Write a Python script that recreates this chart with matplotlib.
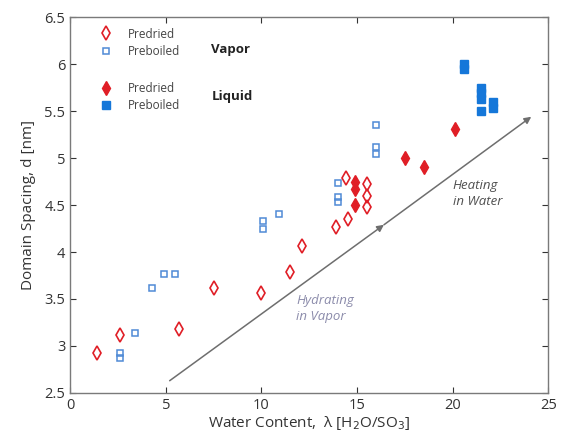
import matplotlib
matplotlib.use("Agg")
import matplotlib.pyplot as plt
from matplotlib.lines import Line2D

plt.rcParams['font.family'] = ['Open Sans', 'DejaVu Sans']

# vapor, predried (open red diamonds)
vap_pd_x = [1.4, 2.6, 5.7, 7.5, 10.0, 11.5, 12.1, 13.9, 14.5, 14.4, 15.5, 15.5, 15.5]
vap_pd_y = [2.92, 3.12, 3.18, 3.62, 3.56, 3.79, 4.06, 4.27, 4.35, 4.79, 4.72, 4.60, 4.48]

# vapor, preboiled (open blue squares)
vap_pb_x = [2.6, 2.6, 3.4, 4.3, 4.9, 5.5, 10.1, 10.1, 10.9, 14.0, 14.0, 14.0, 16.0, 16.0, 16.0]
vap_pb_y = [2.87, 2.92, 3.14, 3.62, 3.77, 3.77, 4.33, 4.25, 4.41, 4.73, 4.59, 4.53, 5.35, 5.12, 5.04]

# liquid, predried (filled red diamonds)
liq_pd_x = [14.9, 14.9, 14.9, 17.5, 18.5, 20.1]
liq_pd_y = [4.75, 4.67, 4.50, 5.00, 4.91, 5.31]

# liquid, preboiled (filled blue squares)
liq_pb_x = [20.6, 20.6, 21.5, 21.5, 21.5, 21.5, 22.1, 22.1]
liq_pb_y = [6.00, 5.95, 5.75, 5.69, 5.63, 5.50, 5.60, 5.53]

# trend arrow (start, mid, end)
arr_x = [5.2, 16.4, 24.1]
arr_y = [2.63, 4.29, 5.44]

red = '#e01e26'
blue_open = '#4f8ad6'
blue_fill = '#1577d9'

fig = plt.figure(figsize=(5.66, 4.41), dpi=100)
ax = fig.add_axes([0.124, 0.109, 0.845, 0.852])

ax.plot(vap_pd_x, vap_pd_y, 'd', ms=7, mfc='none', mec=red, mew=1.2, ls='none')
ax.plot(vap_pb_x, vap_pb_y, 's', ms=5, mfc='none', mec=blue_open, mew=1.1, ls='none')
ax.plot(liq_pd_x, liq_pd_y, 'd', ms=7, mfc=red, mec=red, ls='none')
ax.plot(liq_pb_x, liq_pb_y, 's', ms=5.5, mfc=blue_fill, mec=blue_fill, ls='none')

arrow_kw = dict(arrowstyle='-|>', color='#6e6e6e', lw=1.1, mutation_scale=10,
                shrinkA=0, shrinkB=0)
ax.annotate('', xy=(arr_x[1], arr_y[1]), xytext=(arr_x[0], arr_y[0]), arrowprops=arrow_kw)
ax.annotate('', xy=(arr_x[2], arr_y[2]), xytext=(arr_x[1], arr_y[1]), arrowprops=arrow_kw)

ax.text(11.8, 3.40, 'Hydrating\nin Vapor', style='italic', color='#8c8cab',
        fontsize=9.5, va='center', ha='left', linespacing=1.3)
ax.text(20.0, 4.62, 'Heating\nin Water', style='italic', color='#505050',
        fontsize=9.5, va='center', ha='left', linespacing=1.3)

# legend
h_vap = [Line2D([], [], marker='d', ms=7, mfc='none', mec=red, mew=1.2, ls='none'),
         Line2D([], [], marker='s', ms=5, mfc='none', mec=blue_open, mew=1.1, ls='none')]
h_liq = [Line2D([], [], marker='d', ms=7, mfc=red, mec=red, ls='none'),
         Line2D([], [], marker='s', ms=5.5, mfc=blue_fill, mec=blue_fill, ls='none')]
leg_kw = dict(frameon=False, fontsize=8.5, handletextpad=0.9, labelspacing=0.35,
              borderaxespad=0, labelcolor='#444444')
leg1 = ax.legend(h_vap, ['Predried', 'Preboiled'], loc='upper left',
                 bbox_to_anchor=(0.04, 0.985), **leg_kw)
ax.add_artist(leg1)
ax.legend(h_liq, ['Predried', 'Preboiled'], loc='upper left',
          bbox_to_anchor=(0.04, 0.84), **leg_kw)
ax.text(0.295, 0.915, 'Vapor', transform=ax.transAxes, fontsize=9.5,
        fontweight='bold', va='center', color='#222222')
ax.text(0.295, 0.79, 'Liquid', transform=ax.transAxes, fontsize=9.5,
        fontweight='bold', va='center', color='#222222')

ax.set_xlim(0, 25)
ax.set_ylim(2.5, 6.5)
ax.set_xticks([0, 5, 10, 15, 20, 25])
ax.set_yticks([2.5, 3, 3.5, 4, 4.5, 5, 5.5, 6, 6.5])
ax.set_yticklabels(['2.5', '3', '3.5', '4', '4.5', '5', '5.5', '6', '6.5'])
ax.tick_params(direction='in', top=True, right=True, length=4, width=0.8,
               labelsize=10.5, colors='#333333')
for s in ax.spines.values():
    s.set_color('#7a7a7a')
    s.set_linewidth(1.0)

ax.set_xlabel('Water Content,  \u03bb [H$_2$O/SO$_3$]', fontsize=11, color='#333333', labelpad=1)
ax.set_ylabel('Domain Spacing, d [nm]', fontsize=11, color='#333333', labelpad=6)

fig.savefig('out.png', dpi=100)
